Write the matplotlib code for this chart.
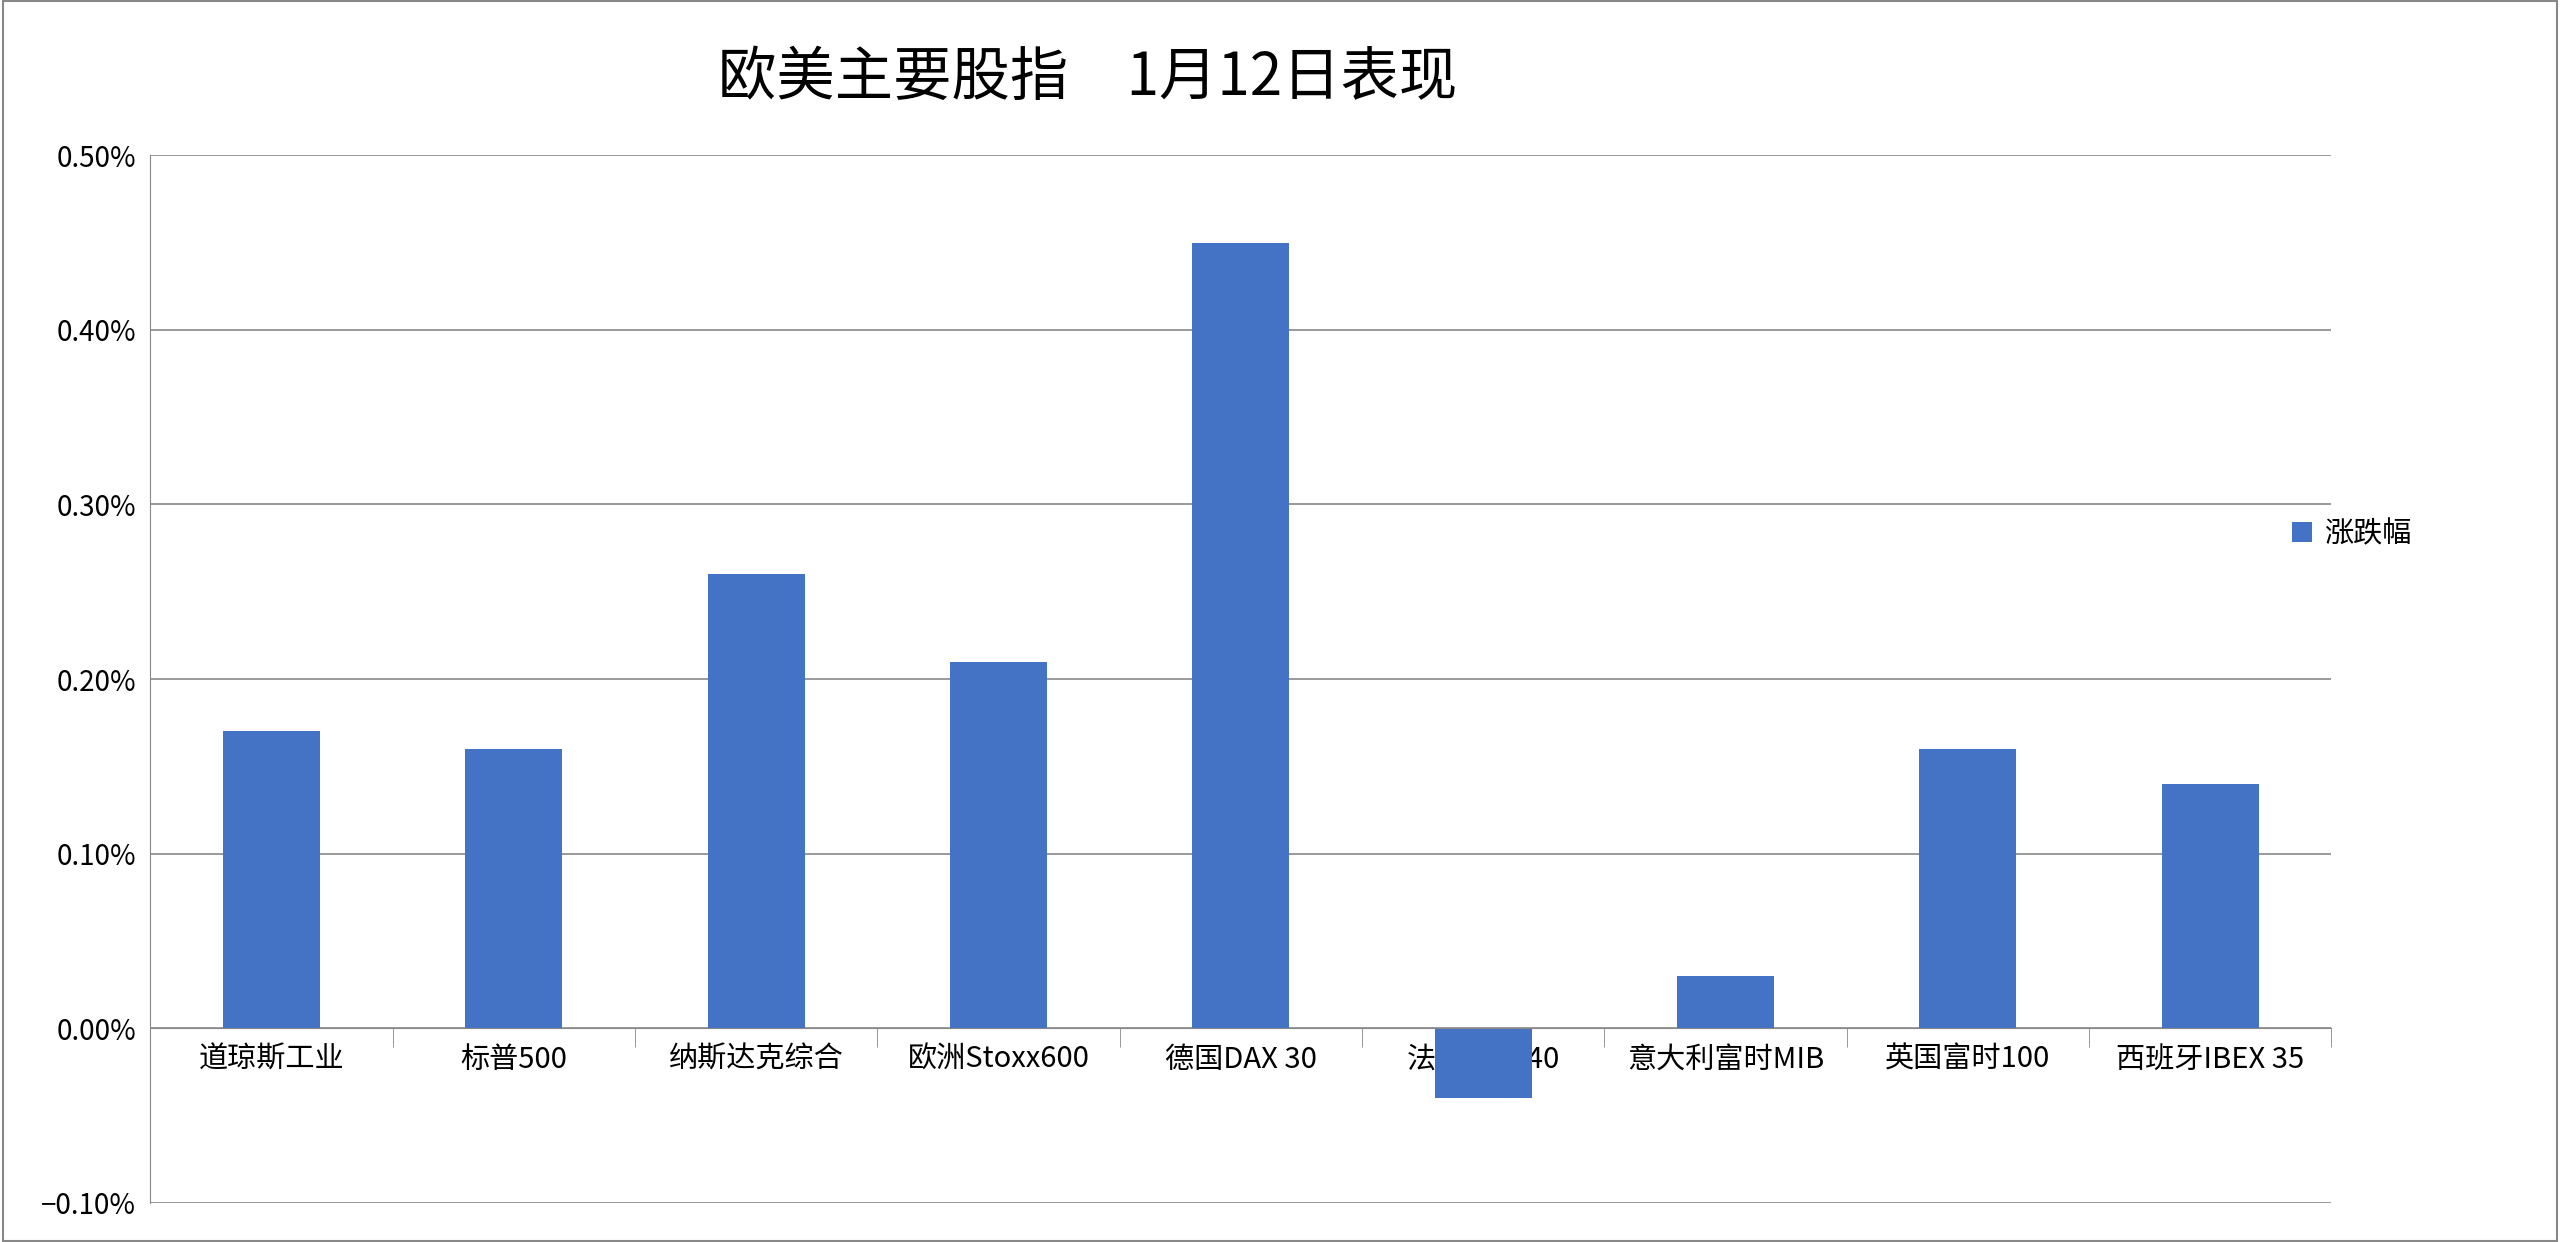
import matplotlib
matplotlib.use("Agg")
import matplotlib.pyplot as plt
import numpy as np
from matplotlib.ticker import FixedLocator, PercentFormatter

plt.rcParams['font.family'] = ['Noto Sans CJK SC', 'DejaVu Sans']

categories = ["道琼斯工业", "标普500", "纳斯达克综合", "欧洲Stoxx600", "德国DAX 30",
              "法国CAC 40", "意大利富时MIB", "英国富时100", "西班牙IBEX 35"]
values = [0.17, 0.16, 0.26, 0.21, 0.45, -0.04, 0.03, 0.16, 0.14]
series_name = "涨跌幅"
title = "欧美主要股指　1月12日表现"

fig = plt.figure(figsize=(25.6, 12.42), dpi=100)
ax = fig.add_axes([0.0587, 0.0315, 0.852, 0.8435])
x = np.arange(len(categories))
ax.bar(x, values, width=0.4, color="#4472C4", label=series_name, zorder=3)
ax.set_xlim(-0.5, len(categories) - 0.5)
ax.set_ylim(-0.1, 0.5)
ax.set_yticks(np.arange(-0.1, 0.51, 0.1))
ax.yaxis.set_major_formatter(PercentFormatter(decimals=2))
ax.grid(axis='y', color='#888888', linewidth=1.2, zorder=0)
for s in ['top', 'right']:
    ax.spines[s].set_visible(False)
ax.spines['left'].set_color('#888888')
ax.spines['bottom'].set_position(('data', 0))
ax.spines['bottom'].set_color('#888888')
ax.spines['bottom'].set_zorder(4)
ax.tick_params(axis='y', labelsize=20, length=0, pad=10)
ax.set_xticks(x)
ax.set_xticklabels(categories)
ax.xaxis.set_minor_locator(FixedLocator(np.arange(-0.5, len(categories), 1.0)))
ax.tick_params(axis='x', which='major', length=0, labelsize=21, pad=12)
ax.tick_params(axis='x', which='minor', length=14, color='#888888', direction='out')
for t in ax.get_xticklabels():
    t.set_zorder(5)
fig.text(0.425, 0.937, title, fontsize=42, ha='center', va='center')
fig.legend(loc='center left', bbox_to_anchor=(0.885, 0.57), frameon=False,
           fontsize=21, handlelength=0.7, handleheight=0.7, handletextpad=0.4)
fig.patches.append(plt.Rectangle((0.001, 0.001), 0.998, 0.998, transform=fig.transFigure,
                                 fill=False, edgecolor='#888888', linewidth=1.5))
fig.savefig("out.png", dpi=100, facecolor='white')
